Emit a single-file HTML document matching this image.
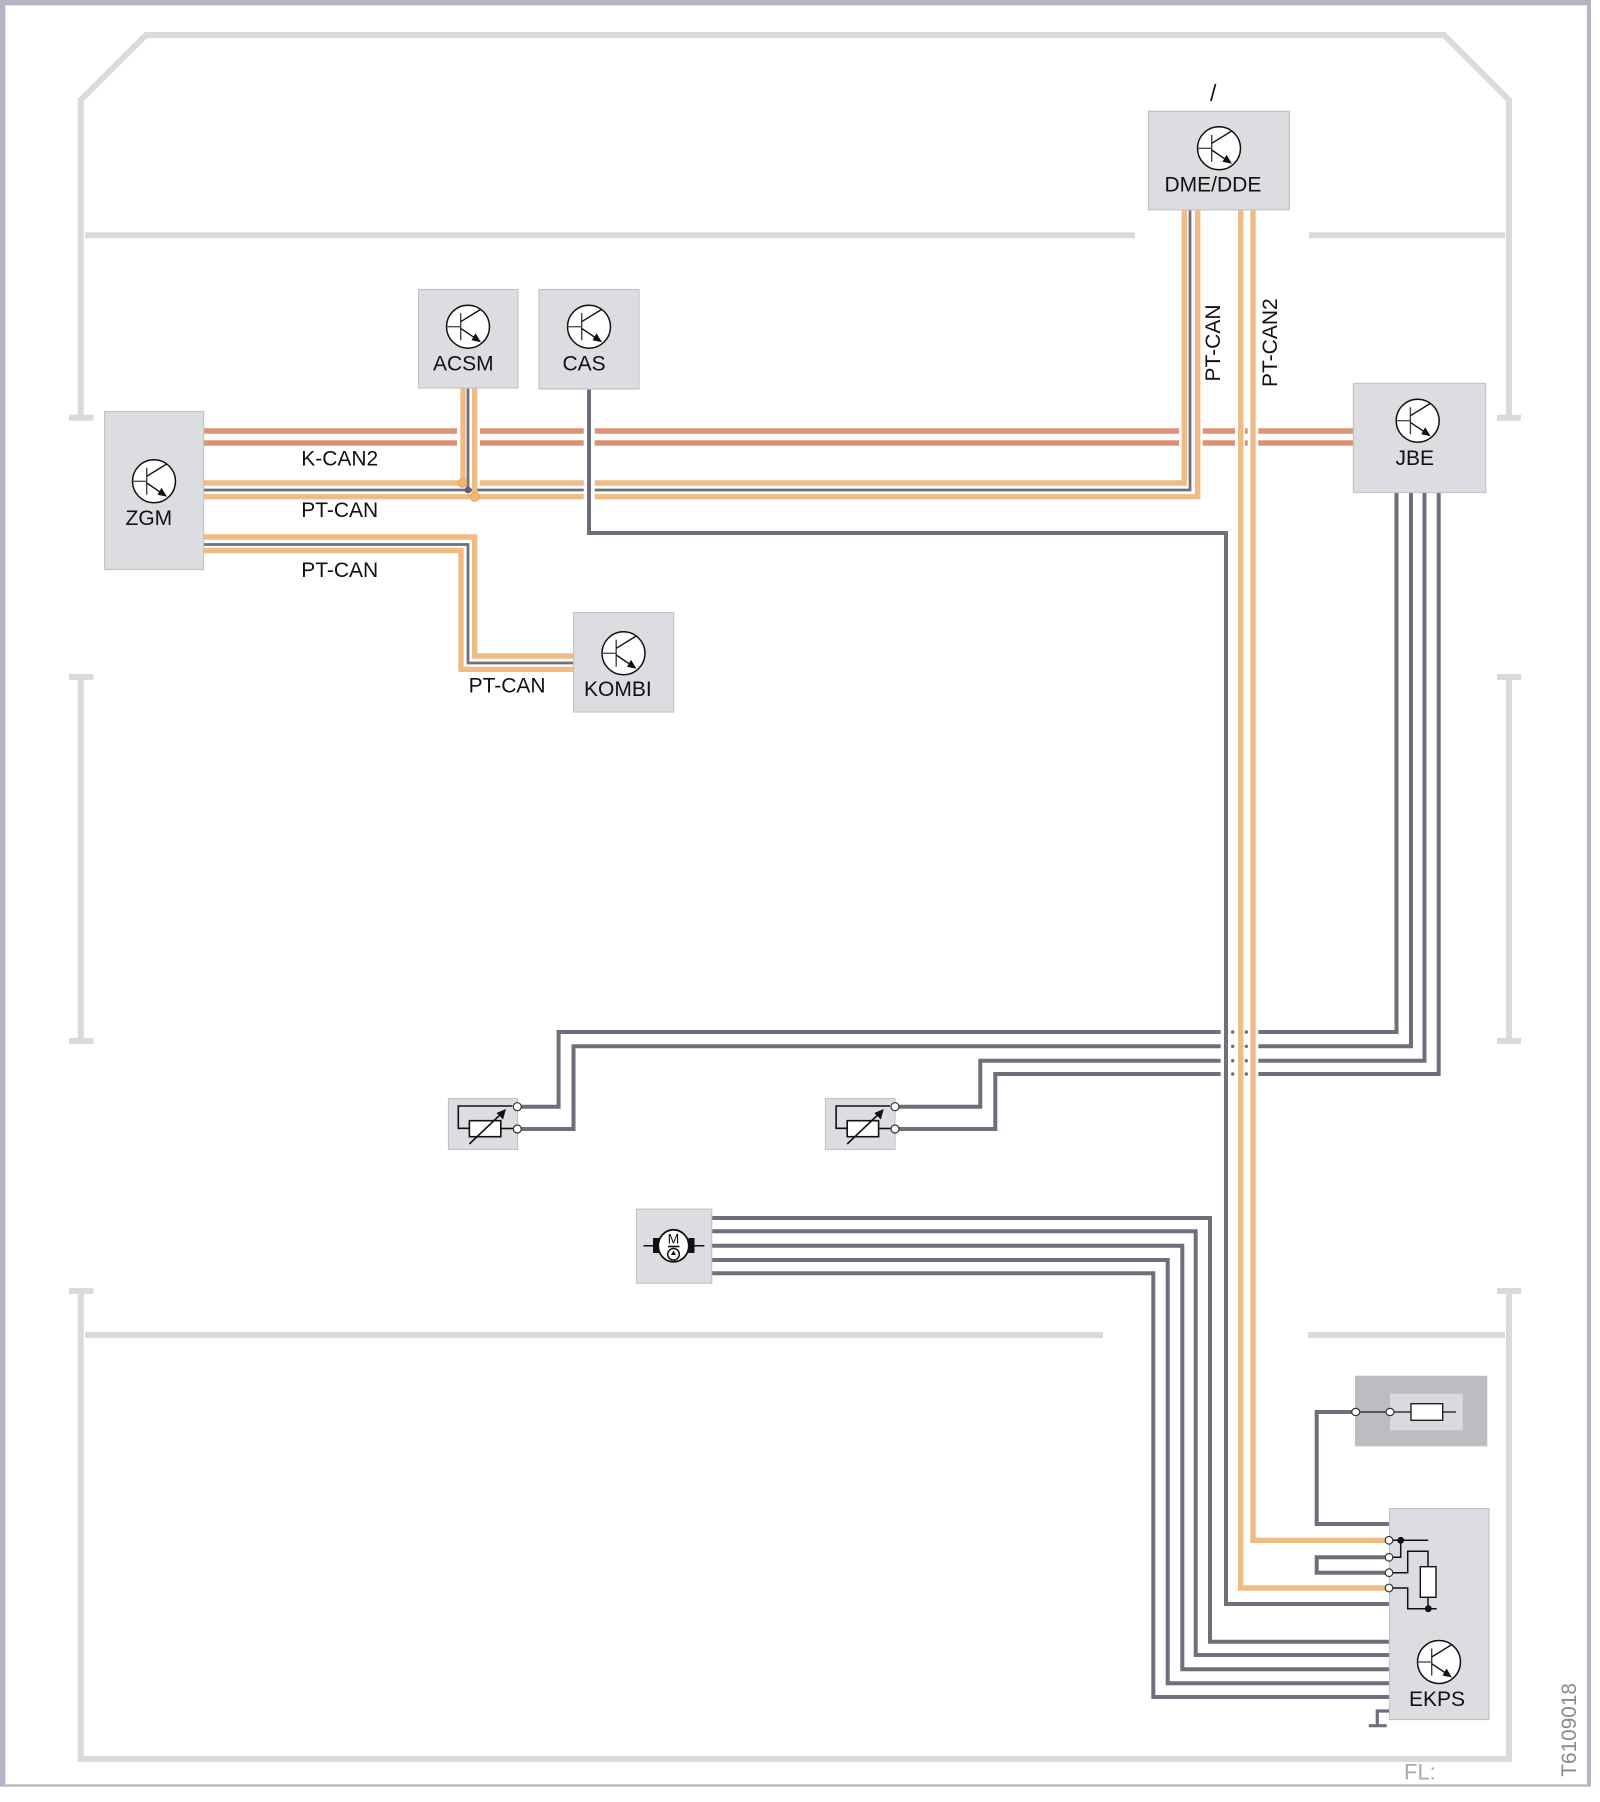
<!DOCTYPE html>
<html>
<head>
<meta charset="utf-8">
<style>
html,body{margin:0;padding:0;background:#fff;width:1600px;height:1802px;overflow:hidden}
svg{display:block}
text{font-family:"Liberation Sans",sans-serif;font-size:21px;fill:#111}
.box{fill:#dcdde1;stroke:#c3c4c8;stroke-width:1.2}
.f{fill:none;stroke:#d9dbda;stroke-width:6}
.o{fill:none;stroke:#f0bc86;stroke-width:5.4}
.r{fill:none;stroke:#dc9275;stroke-width:5.4}
.g{fill:none;stroke:#6f6f7c;stroke-width:4}
.gt{fill:none;stroke:#6f6f7c;stroke-width:2.8}
.k{fill:none;stroke:#111;stroke-width:1.5}
</style>
</head>
<body>
<svg width="1600" height="1802" viewBox="0 0 1600 1802" xmlns="http://www.w3.org/2000/svg">
<defs>
<g id="q">
<circle cx="0" cy="0" r="21.5" fill="#fff" stroke="#111" stroke-width="1.5"/>
<path d="M-21.5 0H-7.3" stroke="#444" stroke-width="1.3" fill="none"/>
<path d="M-7.3 -13.5V13.5" stroke="#444" stroke-width="1.4" fill="none"/>
<path d="M-7.3 -5L12.7 -17.3M-7.3 1.7L8 12" stroke="#111" stroke-width="1.4" fill="none"/>
<path d="M13 15.5L3.5 13.5L7.5 6.5Z" fill="#111"/>
</g>
<g id="pot">
<path d="M512.3 1106H458.3V1128.3H469.4" fill="none" stroke="#111" stroke-width="1.6"/>
<rect x="469.4" y="1120.7" width="31.4" height="16" fill="#fff" stroke="#111" stroke-width="1.6"/>
<path d="M500.8 1128.5H513" fill="none" stroke="#111" stroke-width="1.6"/>
<path d="M469.4 1144L503 1112" fill="none" stroke="#111" stroke-width="1.6"/>
<path d="M506 1109L503 1119.5L496.5 1113Z" fill="#111"/>
</g>
</defs>

<!-- outer frame -->
<path d="M2.7 1785V2.7H1589" fill="none" stroke="#b5b4c6" stroke-width="5.4"/>
<path d="M1589 0V1785" fill="none" stroke="#b5b4c6" stroke-width="4"/>
<path d="M0 1785.5H1591" fill="none" stroke="#b4b4b8" stroke-width="2.2"/>

<!-- vehicle outline -->
<path class="f" d="M80.7 418V100L146 35H1444L1509 100V418"/>
<path class="f" d="M69 417.7H93.5M1497 417.7H1521"/>
<path class="f" d="M85 235.3H1135M1309 235.3H1505"/>
<path class="f" d="M80.7 677V1041M69 677H93.5M69 1041H93.5"/>
<path class="f" d="M1509 677V1041M1497 677H1521M1497 1041H1521"/>
<path class="f" d="M80.7 1291V1759H1509V1291"/>
<path class="f" d="M69 1291H93.5M1497 1291H1521"/>
<path class="f" d="M85 1335H1103M1308 1335H1505"/>

<!-- K-CAN2 -->
<path class="r" d="M204 431H457M480 431H583.7M594.7 431H1179M1202.7 431H1235M1258.3 431H1353.5"/>
<path class="r" d="M204 443H457M480 443H583.7M594.7 443H1179M1202.7 443H1235M1258.3 443H1353.5"/>
<path class="r" d="M1245 431H1247.7M1245 443H1247.7"/>

<!-- PT-CAN main -->
<path class="o" d="M204 483H462M480 483H583.7M594.7 483H1184.3V210"/>
<path class="o" d="M204 496.7H583.7M594.7 496.7H1197.7V210"/>
<path class="gt" d="M204 490H583.7M594.7 490H1190V210"/>
<path class="o" d="M463 388V483M474.7 388V496"/>
<path class="gt" d="M468 388V490"/>
<circle cx="462.5" cy="483" r="4.4" fill="#efb677" stroke="#e7a65f" stroke-width="1"/>
<circle cx="468" cy="490" r="3.4" fill="#5f5f70"/>
<circle cx="474.7" cy="496.7" r="4.6" fill="#efb677" stroke="#e7a65f" stroke-width="1"/>

<!-- PT-CAN to KOMBI -->
<path class="o" d="M204 537H474.7V656H574"/>
<path class="gt" d="M204 544.5H468V663H574"/>
<path class="o" d="M204 550.5H461V669.3H574"/>

<!-- PT-CAN2 -->
<path class="o" d="M1240.7 210V1588H1389"/>
<path class="o" d="M1253 210V1540.3H1389"/>

<!-- CAS line -->
<path class="g" d="M589 389V533H1226V1604H1389.3"/>

<!-- JBE verticals -->
<path class="g" d="M1396.5 493V1032H1258.3M1220.7 1032H558.6V1106.7H517"/>
<path class="g" d="M1411 493V1046.3H1258.3M1220.7 1046.3H573.5V1129H517"/>
<path class="g" d="M1424.5 493V1060.7H1258.3M1220.7 1060.7H980.3V1106.7H895"/>
<path class="g" d="M1438.7 493V1074H1258.3M1220.7 1074H995.3V1129H895"/>
<path d="M1232.7 1032v.1M1246.3 1032v.1M1232.7 1046.3v.1M1246.3 1046.3v.1M1232.7 1060.7v.1M1246.3 1060.7v.1M1232.7 1074v.1M1246.3 1074v.1" stroke="#6f6f7c" stroke-width="3.4" stroke-linecap="round" fill="none"/>

<!-- motor lines -->
<path class="g" d="M711 1218H1210V1641.7H1389.3"/>
<path class="g" d="M711 1231.3H1195.7V1655H1389.3"/>
<path class="g" d="M711 1245.7H1182.3V1669.3H1389.3"/>
<path class="g" d="M711 1260H1167.7V1683.3H1389.3"/>
<path class="g" d="M711 1273.3H1153.3V1697H1389.3"/>

<!-- fuse line, loop, ground -->
<path class="g" d="M1355 1412H1316.7V1524H1389.3"/>
<path class="g" d="M1389 1557.3H1316.7V1572.7H1389"/>
<path fill="none" stroke="#6f6f7c" stroke-width="3.2" d="M1389.3 1711H1377.3V1725.7M1368.7 1725.7H1386.7"/>

<!-- boxes -->
<rect class="box" x="104.6" y="411.5" width="99" height="158"/>
<rect class="box" x="418.6" y="289.5" width="99.4" height="98.5"/>
<rect class="box" x="539" y="289.5" width="100" height="99.5"/>
<rect class="box" x="573.6" y="612.5" width="100" height="99.5"/>
<rect class="box" x="1148.4" y="111.3" width="141" height="98.5"/>
<rect class="box" x="1353.4" y="383.5" width="132.3" height="109"/>
<rect class="box" x="448.5" y="1098.5" width="69" height="51"/>
<rect class="box" x="825.5" y="1098.5" width="69.5" height="51"/>
<rect class="box" x="636.5" y="1209.2" width="75.2" height="74"/>
<rect x="1355" y="1375.7" width="132.3" height="70.6" fill="#bcbdc1"/>
<rect x="1390" y="1393.7" width="72.7" height="36.6" fill="#d9dade"/>
<rect class="box" x="1389.5" y="1508.5" width="99.5" height="211"/>

<!-- transistors -->
<use href="#q" x="468" y="326.7"/>
<use href="#q" x="589" y="326.7"/>
<use href="#q" x="154" y="481.3"/>
<use href="#q" x="623.5" y="653.3"/>
<use href="#q" x="1219" y="148.3"/>
<use href="#q" x="1417.7" y="420.7"/>
<use href="#q" x="1439" y="1662"/>

<!-- potentiometers -->
<use href="#pot"/>
<use href="#pot" x="377.8"/>
<g fill="#fff" stroke="#333" stroke-width="1.2">
<circle cx="517.3" cy="1106.7" r="4"/><circle cx="517.3" cy="1129" r="4"/>
<circle cx="895" cy="1106.7" r="4"/><circle cx="895" cy="1129" r="4"/>
</g>

<!-- motor -->
<path d="M643.5 1245.7H704.4" stroke="#111" stroke-width="1.5" fill="none"/>
<rect x="653" y="1238" width="6" height="15" fill="#111"/>
<rect x="688.5" y="1238" width="6" height="15" fill="#111"/>
<ellipse cx="673.5" cy="1245.8" rx="15.3" ry="16" fill="#fff" stroke="#111" stroke-width="1.8"/>
<text x="673.5" y="1243.5" text-anchor="middle" style="font-size:14px">M</text>
<path d="M668 1246.5H679.5" stroke="#111" stroke-width="1.6" fill="none"/>
<circle cx="673.5" cy="1254.3" r="5.8" fill="#fff" stroke="#111" stroke-width="1.5"/>
<path d="M673.5 1250.5L676 1255H671Z" fill="#111"/>

<!-- fuse -->
<path d="M1360 1412H1456" stroke="#333" stroke-width="1.4" fill="none"/>
<rect x="1411" y="1403.7" width="31.7" height="16.6" fill="#fff" stroke="#222" stroke-width="1.4"/>
<g fill="#fff" stroke="#333" stroke-width="1.2">
<ellipse cx="1355.7" cy="1412" rx="4" ry="3.6"/><ellipse cx="1390" cy="1412" rx="4" ry="3.6"/>
</g>

<!-- EKPS internals -->
<path class="k" d="M1389 1540.3H1428.3M1400.7 1540.3V1557.3H1393M1393 1572.7H1407.7V1551.3H1428V1567M1428 1597.3V1608.7M1393 1588H1407.7V1608.7H1436.7"/>
<rect x="1420.3" y="1566.7" width="15.7" height="30.6" fill="#fff" stroke="#111" stroke-width="1.4"/>
<circle cx="1400.7" cy="1540.3" r="3.4" fill="#111"/>
<circle cx="1428.3" cy="1608.7" r="3.4" fill="#111"/>
<g fill="#fff" stroke="#333" stroke-width="1.2">
<circle cx="1389" cy="1540.3" r="3.8"/><circle cx="1389" cy="1557.3" r="3.8"/>
<circle cx="1389" cy="1572.7" r="3.8"/><circle cx="1389" cy="1588" r="3.8"/>
</g>

<!-- labels -->
<text x="1210" y="101" style="font-size:23px">/</text>
<text x="1164.5" y="191.5">DME/DDE</text>
<text x="433" y="370.5">ACSM</text>
<text x="562.5" y="370.5">CAS</text>
<text x="125.5" y="525">ZGM</text>
<text x="584" y="696">KOMBI</text>
<text x="1395.5" y="465">JBE</text>
<text x="1409" y="1706">EKPS</text>
<text x="301.2" y="465.5">K-CAN2</text>
<text x="301.2" y="517">PT-CAN</text>
<text x="301.2" y="577">PT-CAN</text>
<text x="468.6" y="692.5">PT-CAN</text>
<text transform="translate(1220 381.5) rotate(-90)">PT-CAN</text>
<text transform="translate(1277 387) rotate(-90)">PT-CAN2</text>
<text x="1404" y="1779.5" style="font-size:22px;fill:#aaaaaa">FL:</text>
<text transform="translate(1576 1776.7) rotate(-90)" style="font-size:20.8px;fill:#8a8a8a">T6109018</text>
</svg>
</body>
</html>
